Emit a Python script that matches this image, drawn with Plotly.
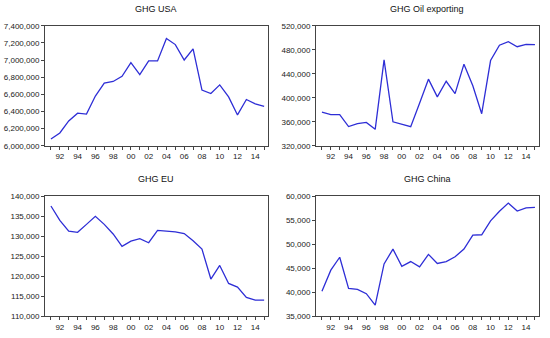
import plotly.graph_objects as go

years = list(range(1991, 2016))

ghg_usa = [6080000, 6150000, 6290000, 6380000, 6370000, 6580000, 6730000, 6750000,
           6810000, 6970000, 6830000, 6990000, 6990000, 7250000, 7180000, 7000000,
           7130000, 6650000, 6610000, 6710000, 6570000, 6360000, 6540000, 6490000,
           6460000]
ghg_oil = [376000, 372000, 372000, 352000, 357000, 359000, 347500, 463000,
           360000, 356000, 352000, 391000, 431000, 401500, 427500, 407000,
           456000, 420000, 373500, 462000, 487500, 493500, 485000, 489000,
           488500]
ghg_eu = [137600, 134000, 131300, 131000, 133000, 135000, 133000, 130600,
          127500, 128800, 129400, 128400, 131500, 131300, 131100, 130700,
          128900, 126800, 119300, 122700, 118200, 117300, 114700, 114000,
          114000]
ghg_china = [40200, 44600, 47300, 40800, 40600, 39700, 37300, 45900,
             49000, 45400, 46400, 45300, 47900, 46000, 46400, 47400,
             49000, 51900, 52000, 54900, 56900, 58600, 56950, 57600,
             57700]

titles = ["GHG USA", "GHG Oil exporting", "GHG EU", "GHG China"]
series = [ghg_usa, ghg_oil, ghg_eu, ghg_china]
y_ranges = [(6000000, 7400000, 200000), (320000, 520000, 40000),
            (110000, 140000, 5000), (35000, 60000, 5000)]

major_years = list(range(1992, 2015, 2))
major_text = ["%02d" % (y % 100) for y in major_years]

W, H = 550, 338
xdoms = [(45 / W, 267.7 / W), (316 / W, 538.5 / W)]
ydoms = [(1 - 145.7 / H, 1 - 22.3 / H), (1 - 320.7 / H, 1 - 197.7 / H)]
title_y = [1 - 5 / H, 1 - 180 / H]

line_color = "#2E2ED6"
axis_color = "#444444"
font_family = "Liberation Sans, Arial, sans-serif"

fig = go.Figure()
layout = dict(width=W, height=H, margin=dict(l=0, r=0, t=0, b=0),
              paper_bgcolor="white", plot_bgcolor="white", showlegend=False,
              font=dict(family=font_family, size=8, color="#222222"))
annotations = []

for i in range(4):
    row, col = divmod(i, 2)
    n = i + 1
    xa = "xaxis" if n == 1 else "xaxis%d" % n
    ya = "yaxis" if n == 1 else "yaxis%d" % n
    xref = "x" if n == 1 else "x%d" % n
    yref = "y" if n == 1 else "y%d" % n
    fig.add_trace(go.Scatter(x=years, y=series[i], mode="lines",
                             line=dict(color=line_color, width=1.3),
                             xaxis=xref, yaxis=yref, hoverinfo="x+y"))
    lo, hi, step = y_ranges[i]
    layout[xa] = dict(domain=list(xdoms[col]), anchor=yref, range=[1990.33, 2015.4],
                      tickmode="array", tickvals=major_years, ticktext=major_text,
                      ticks="outside", ticklen=3, tickcolor=axis_color,
                      minor=dict(tickvals=years, ticks="outside", ticklen=3,
                                 tickcolor=axis_color),
                      showline=True, linecolor=axis_color, linewidth=1, mirror=True,
                      showgrid=False, zeroline=False,
                      tickfont=dict(size=8))
    layout[ya] = dict(domain=list(ydoms[row]), anchor=xref, range=[lo, hi],
                      tickmode="linear", tick0=lo, dtick=step, tickformat=",",
                      ticks="outside", ticklen=3, tickcolor=axis_color,
                      showline=True, linecolor=axis_color, linewidth=1, mirror=True,
                      showgrid=False, zeroline=False,
                      tickfont=dict(size=8))
    annotations.append(dict(text=titles[i], xref="paper", yref="paper",
                            x=(xdoms[col][0] + xdoms[col][1]) / 2, y=title_y[row],
                            xanchor="center", yanchor="middle", showarrow=False,
                            font=dict(size=9, family=font_family, color="#111111")))

layout["annotations"] = annotations
fig.update_layout(**layout)
fig.write_html("out.html", config={"displayModeBar": False})

# remove the default page margin so the 550x338 figure fits the window exactly
with open("out.html", "r", encoding="utf-8") as f:
    html = f.read()
html = html.replace("<head>", "<head><style>html,body{margin:0;padding:0;overflow:hidden;}</style>", 1)
with open("out.html", "w", encoding="utf-8") as f:
    f.write(html)
